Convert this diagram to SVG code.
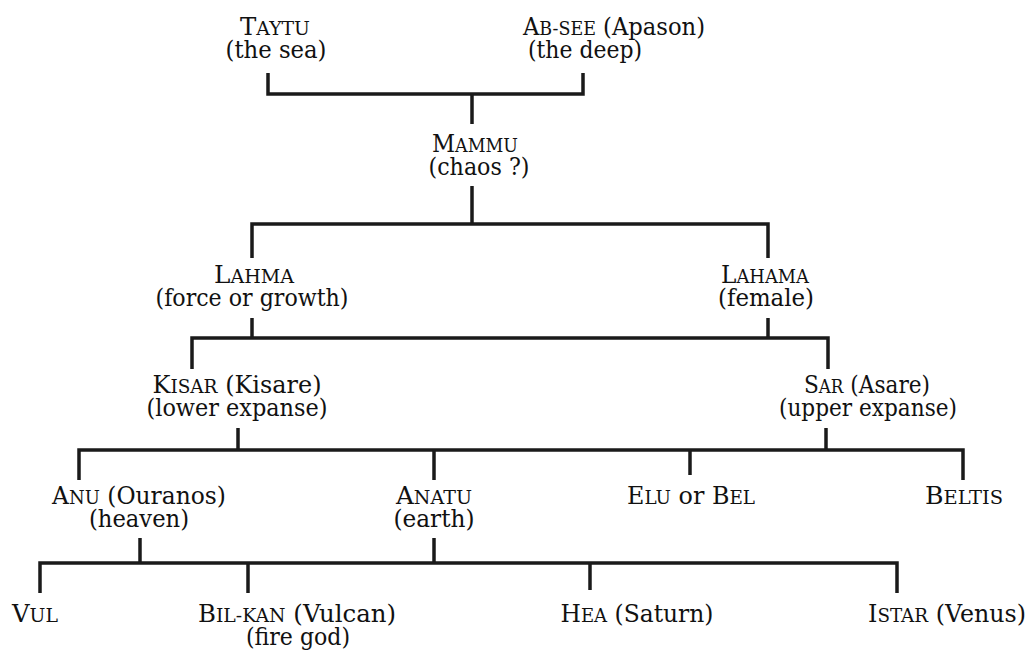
<svg xmlns="http://www.w3.org/2000/svg" width="1031" height="655" viewBox="0 0 1031 655">
<style>
text { font-family: "DejaVu Serif", "Liberation Serif", serif; font-size: 24px; fill: #111111; text-anchor: middle; }
.sc { font-size: 18.5px; }
#connectors path { fill: none; stroke: #1a1a1a; stroke-width: 3.5; stroke-linecap: butt; stroke-linejoin: miter; }
</style>
<rect width="1031" height="655" fill="#ffffff"/>
<g id="connectors">
  <path d="M268,73 V94 H583 V73"/>
  <path d="M472,94 V124"/>
  <path d="M472,186 V224"/>
  <path d="M252,258 V224 H768 V258"/>
  <path d="M252,318 V338"/>
  <path d="M768,318 V338"/>
  <path d="M192,369 V338 H828 V369"/>
  <path d="M238,428 V450"/>
  <path d="M826,428 V450"/>
  <path d="M79,480 V450 H963 V480"/>
  <path d="M434,450 V480"/>
  <path d="M690,450 V475"/>
  <path d="M140,538 V563"/>
  <path d="M434,538 V563"/>
  <path d="M40,593 V563 H897 V593"/>
  <path d="M248,563 V593"/>
  <path d="M590,563 V590"/>
</g>
<g id="taytu">
  <text x="275" y="35" textLength="70" lengthAdjust="spacingAndGlyphs">T<tspan class="sc">AYTU</tspan></text>
  <text x="276" y="58" textLength="101" lengthAdjust="spacingAndGlyphs">(the sea)</text>
</g>
<g id="absee">
  <text x="614" y="35" textLength="182" lengthAdjust="spacingAndGlyphs">A<tspan class="sc">B-SEE</tspan> (Apason)</text>
  <text x="585" y="58" textLength="114" lengthAdjust="spacingAndGlyphs">(the deep)</text>
</g>
<g id="mammu">
  <text x="475" y="152" textLength="86" lengthAdjust="spacingAndGlyphs">M<tspan class="sc">AMMU</tspan></text>
  <text x="479" y="175" textLength="101" lengthAdjust="spacingAndGlyphs">(chaos ?)</text>
</g>
<g id="lahma">
  <text x="254" y="283" textLength="80" lengthAdjust="spacingAndGlyphs">L<tspan class="sc">AHMA</tspan></text>
  <text x="252" y="306" textLength="193" lengthAdjust="spacingAndGlyphs">(force or growth)</text>
</g>
<g id="lahama">
  <text x="765" y="283" textLength="88" lengthAdjust="spacingAndGlyphs">L<tspan class="sc">AHAMA</tspan></text>
  <text x="766" y="306" textLength="96" lengthAdjust="spacingAndGlyphs">(female)</text>
</g>
<g id="kisar">
  <text x="237" y="393" textLength="169" lengthAdjust="spacingAndGlyphs">K<tspan class="sc">ISAR</tspan> (Kisare)</text>
  <text x="237" y="416" textLength="181" lengthAdjust="spacingAndGlyphs">(lower expanse)</text>
</g>
<g id="sar">
  <text x="867" y="393" textLength="126" lengthAdjust="spacingAndGlyphs">S<tspan class="sc">AR</tspan> (Asare)</text>
  <text x="868" y="416" textLength="178" lengthAdjust="spacingAndGlyphs">(upper expanse)</text>
</g>
<g id="anu">
  <text x="139" y="504" textLength="174" lengthAdjust="spacingAndGlyphs">A<tspan class="sc">NU</tspan> (Ouranos)</text>
  <text x="139" y="527" textLength="100" lengthAdjust="spacingAndGlyphs">(heaven)</text>
</g>
<g id="anatu">
  <text x="434" y="504" textLength="76" lengthAdjust="spacingAndGlyphs">A<tspan class="sc">NATU</tspan></text>
  <text x="434" y="527" textLength="81" lengthAdjust="spacingAndGlyphs">(earth)</text>
</g>
<g id="elu">
  <text x="691" y="504" textLength="128" lengthAdjust="spacingAndGlyphs">E<tspan class="sc">LU</tspan> or B<tspan class="sc">EL</tspan></text>
</g>
<g id="beltis">
  <text x="964" y="504" textLength="78" lengthAdjust="spacingAndGlyphs">B<tspan class="sc">ELTIS</tspan></text>
</g>
<g id="vul">
  <text x="35" y="622" textLength="46" lengthAdjust="spacingAndGlyphs">V<tspan class="sc">UL</tspan></text>
</g>
<g id="bilkan">
  <text x="297" y="622" textLength="198" lengthAdjust="spacingAndGlyphs">B<tspan class="sc">IL-KAN</tspan> (Vulcan)</text>
  <text x="298" y="645" textLength="104" lengthAdjust="spacingAndGlyphs">(fire god)</text>
</g>
<g id="hea">
  <text x="637" y="622" textLength="153" lengthAdjust="spacingAndGlyphs">H<tspan class="sc">EA</tspan> (Saturn)</text>
</g>
<g id="istar">
  <text x="947" y="622" textLength="158" lengthAdjust="spacingAndGlyphs">I<tspan class="sc">STAR</tspan> (Venus)</text>
</g>
</svg>
